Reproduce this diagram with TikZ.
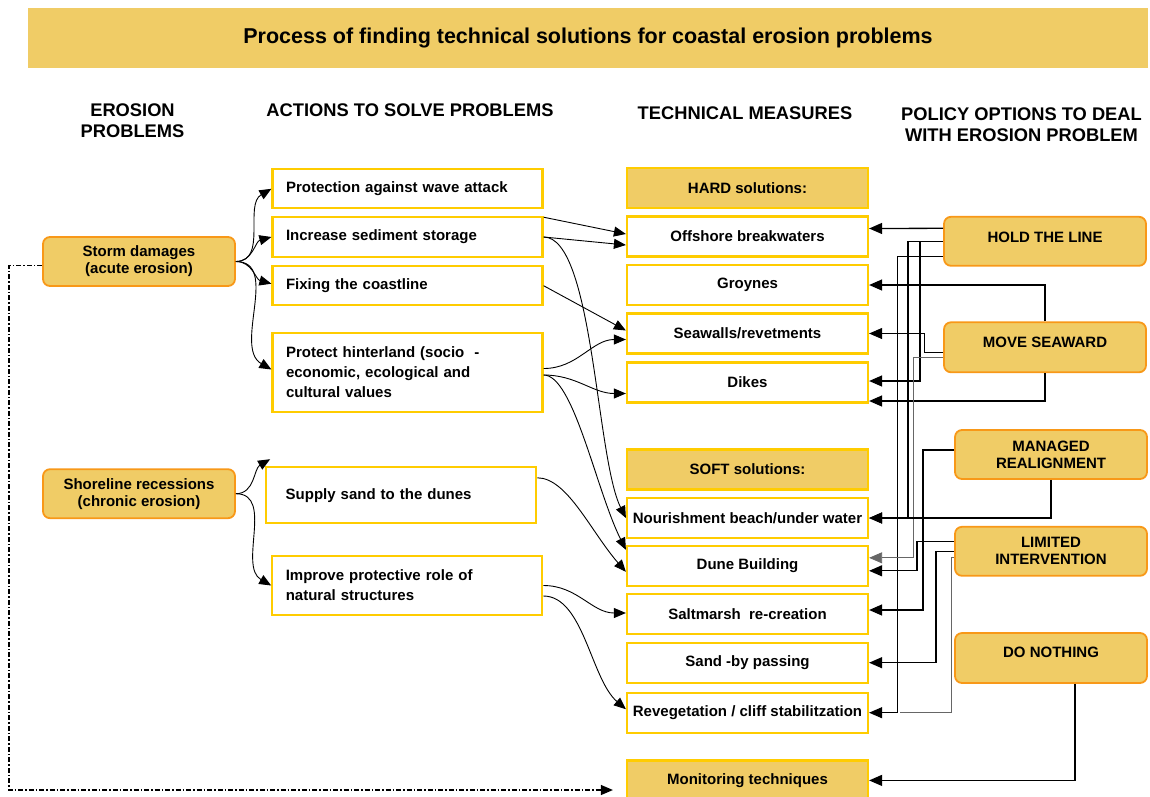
\documentclass[tikz,border=0pt]{standalone}
\usepackage{fontspec}
\setmainfont{Liberation Sans}
\definecolor{coastgold}{RGB}{240,204,102}
\definecolor{coastyellow}{RGB}{255,204,0}
\definecolor{coastorange}{RGB}{248,152,24}
\usetikzlibrary{arrows.meta}

\begin{document}
\begin{tikzpicture}[x=1pt, y=-1pt,
  every node/.style={font=\bfseries\fontsize{15}{17}\selectfont},
  titlebar/.style={fill=coastgold, minimum width=1120pt, minimum height=60pt, inner sep=0pt, font=\bfseries\fontsize{21.5}{24}\selectfont},
  header/.style={align=center, font=\bfseries\fontsize{18.3}{21}\selectfont},
  problembox/.style={draw=coastorange, line width=1.8pt, fill=coastgold, rounded corners=7pt, minimum width=192pt, minimum height=49pt, inner sep=0pt, align=center},
  policybox/.style={problembox, minimum width=202pt},
  actbox/.style={draw=coastyellow, line width=2.2pt, fill=white, minimum width=270pt, text width=243pt, inner xsep=13.5pt, inner ysep=0pt, align=left, font=\bfseries\fontsize{15}{20}\selectfont},
  techbox/.style={draw=coastyellow, line width=2.2pt, fill=white, minimum width=241pt, minimum height=40pt, inner sep=0pt},
  techhead/.style={techbox, fill=coastgold},
  conn/.style={line width=1.3pt, -{Triangle[length=13pt 0,width=11pt 0]}},
  curve/.style={line width=0.9pt, -{Triangle[length=12pt 0,width=10pt 0]}},
  greyconn/.style={conn, line width=0.8pt, black!60},
  greyline/.style={line width=0.8pt, black!60}]

  \useasboundingbox (0,0) rectangle (1150,796);

  % Title
  \node[titlebar] (title) at (588,38) {Process of finding technical solutions for coastal erosion problems};

  % Column headers
  \node[header] (hprob) at (132.5,121) {EROSION\\PROBLEMS};
  \node[header] (hact) at (410,110) {ACTIONS TO SOLVE PROBLEMS};
  \node[header] (htech) at (745,113) {TECHNICAL MEASURES};
  \node[header] (hpol) at (1021.5,125) {POLICY OPTIONS TO DEAL\\WITH EROSION PROBLEM};

  % Erosion problems
  \node[problembox] (storm) at (139,261.5) {Storm damages\\(acute erosion)};
  \node[problembox] (shore) at (139,493.7) {Shoreline recessions\\(chronic erosion)};

  % Actions to solve problems
  \node[actbox, minimum height=39pt] (wave) at (407.5,188.8) {Protection against wave attack};
  \node[actbox, minimum height=39.4pt] (incr) at (407.5,237) {Increase sediment storage};
  \node[actbox, minimum height=39.3pt] (fixc) at (407.5,285.7) {Fixing the coastline};
  \node[actbox, minimum height=78.4pt] (hinter) at (407.5,372.5) {Protect hinterland (socio~~-\\economic, ecological and\\cultural values};
  \node[actbox, minimum height=56pt, text width=231pt, inner xsep=19.25pt] (supply) at (401.2,495.3) {Supply sand to the dunes};
  \node[actbox, minimum height=59pt] (improve) at (407.3,585.5) {Improve protective role of\\natural structures};

  % Technical measures
  \node[techhead] (hard) at (747.5,188) {HARD solutions:};
  \node[techbox] (offs) at (747.5,236.5) {Offshore breakwaters};
  \node[techbox] (groy) at (747.5,285) {Groynes};
  \node[techbox] (seaw) at (747.5,333.5) {Seawalls/revetments};
  \node[techbox] (dike) at (747.5,382.5) {Dikes};
  \node[techhead] (soft) at (747.5,469.5) {SOFT solutions:};
  \node[techbox] (nour) at (747.5,518) {Nourishment beach/under water};
  \node[techbox] (dune) at (747.5,565.8) {Dune Building};
  \node[techbox] (salt) at (747.5,614) {Saltmarsh~~re-creation};
  \node[techbox] (sand) at (747.5,662.7) {Sand -by passing};
  \node[techbox] (reveg) at (747.5,712.7) {Revegetation / cliff stabilitzation};
  \node[techhead] (monit) at (747.5,780.4) {Monitoring techniques};

  % Policy options
  \node[policybox, text depth=8pt] (hold) at (1045,241.3) {HOLD THE LINE};
  \node[policybox, minimum height=50pt, text depth=10pt] (move) at (1045,347.3) {MOVE SEAWARD};
  \node[policybox, minimum width=192pt] (mana) at (1051,454.5) {MANAGED\\REALIGNMENT};
  \node[policybox, minimum width=192pt] (limi) at (1051,551.3) {LIMITED\\INTERVENTION};
  \node[policybox, minimum width=192pt, minimum height=50pt, text depth=12pt] (noth) at (1051,658) {DO NOTHING};

  % Problems -> actions
  \draw[curve] (storm.east) to[out=0, in=210] (wave.west);
  \draw[curve] (storm.east) to[out=0, in=195] (incr.west);
  \draw[curve] (storm.east) to[out=0, in=165] ([yshift=2pt]fixc.west);
  \draw[curve] (storm.east) to[out=0, in=150] ([yshift=3pt]hinter.west);
  \draw[curve] (shore.east) to[out=0, in=210] ([xshift=5pt,yshift=7pt]supply.north west);
  \draw[curve] (shore.east) to[out=0, in=150] (improve.west);

  % Actions -> measures
  \draw[curve] ([yshift=-1pt]incr.north east) -- ([yshift=2.5pt]offs.west);
  \draw[curve] (incr.east) -- ([yshift=-8.5pt]offs.west);
  \draw[curve] (incr.east) .. controls +(50,0) and +(-30,-60) .. (nour.west);
  \draw[curve] (fixc.east) -- ([yshift=3pt]seaw.west);
  \draw[curve] ([yshift=4pt]hinter.east) to[out=0, in=180] ([yshift=-6pt]seaw.west);
  \draw[curve] ([yshift=-2.5pt]hinter.east) to[out=0, in=180] ([yshift=-11pt]dike.west);
  \draw[curve] ([yshift=-2.5pt]hinter.east) .. controls +(30,0) and +(-30,-60) .. ([yshift=16pt]dune.west);
  \draw[curve] ([yshift=17.5pt]supply.east) .. controls +(30,0) and +(-35,-40) .. ([yshift=-6pt]dune.west);
  \draw[curve] (improve.east) to[out=0, in=180] ([yshift=1pt]salt.west);
  \draw[curve] ([yshift=-10.5pt]improve.east) .. controls +(40,0) and +(-35,-30) .. ([yshift=3.5pt]reveg.west);

  % Policy options -> measures
  \draw[conn] ([yshift=13pt]hold.west) -- ([yshift=8pt]offs.east);
  \draw[conn] (hold.west) -| ([xshift=51pt,yshift=1.5pt]dike.east) -- ([yshift=1.5pt]dike.east);
  \draw[conn] (hold.west) -| ([xshift=39pt]nour.east) -- (nour.east);
  \draw[conn, line width=1.1pt] ([yshift=-15pt]hold.west) -| ([xshift=28pt]reveg.east) -- (reveg.east);
  \draw[conn] (move.north) |- (groy.east);
  \draw[conn] (move.south) |- ([yshift=-18.5pt]dike.east);
  \draw[conn, line width=0.9pt] ([yshift=-5pt]move.west) -| ([xshift=55pt]seaw.east) -- (seaw.east);
  \draw[greyconn] ([yshift=-10pt]move.west) -| ([xshift=44pt,yshift=8pt]dune.east) -- ([yshift=8pt]dune.east);
  \draw[conn] ([yshift=4.5pt]mana.west) -| ([xshift=54pt,yshift=4pt]salt.east) -- ([yshift=4pt]salt.east);
  \draw[conn] (mana.south) |- (nour.east);
  \draw[conn] ([yshift=9.5pt]limi.west) -| ([xshift=48pt,yshift=-5pt]dune.east) -- ([yshift=-5pt]dune.east);
  \draw[conn] (limi.west) -| ([xshift=67pt]sand.east) -- (sand.east);
  \draw[greyline] ([yshift=-6pt]limi.west) -| ([xshift=82pt,yshift=0.4pt]reveg.east) -- ([xshift=31pt,yshift=0.4pt]reveg.east);
  \draw[conn] ([xshift=24pt]noth.south) |- (monit.east);

  % Monitoring loop
  \draw[line width=1.2pt, dash pattern=on 5pt off 2pt on 1.5pt off 2pt, -{Triangle[length=12pt 0,width=10pt 0]}] ([yshift=-4pt]storm.west) -| ([xshift=-617pt,yshift=-9.6pt]monit.west) -- ([xshift=-13pt,yshift=-9.6pt]monit.west);
\end{tikzpicture}
\end{document}
